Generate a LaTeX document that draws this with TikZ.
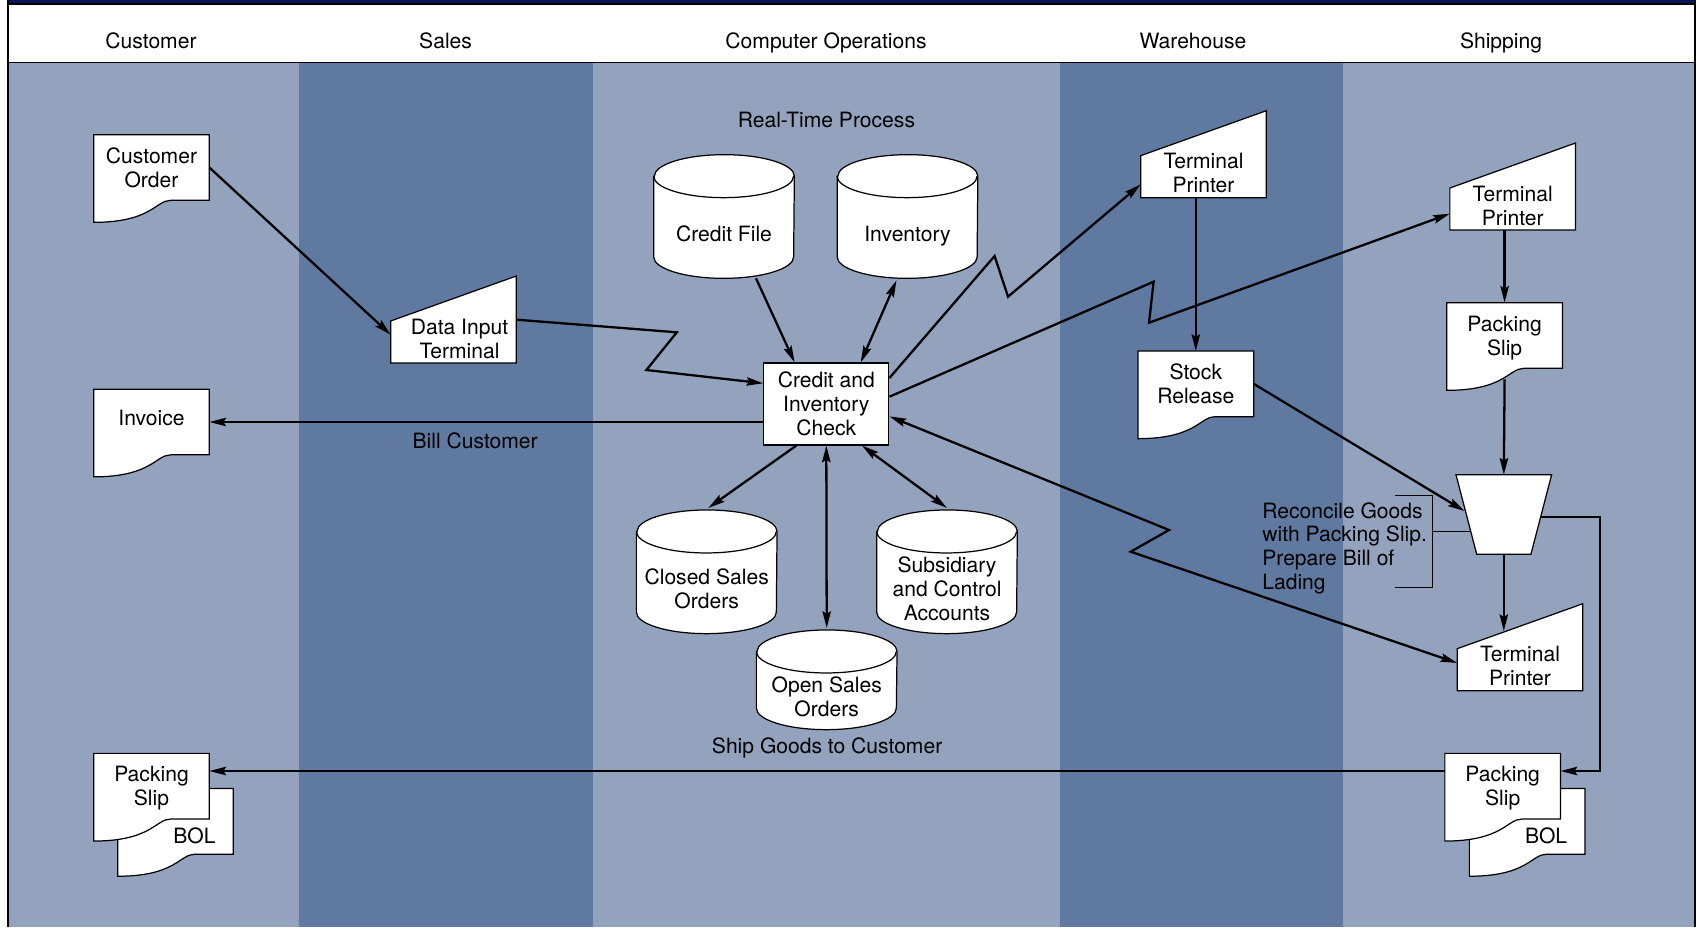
\documentclass[tikz,border=0pt]{standalone}
\usepackage{fontspec}
\setmainfont{TeX Gyre Heros}
\usetikzlibrary{arrows.meta, calc, backgrounds}
\definecolor{lanelight}{RGB}{148,163,189}
\definecolor{lanedark}{RGB}{96,121,160}
\definecolor{framenavy}{RGB}{10,18,90}

%% shape outlines, drawn behind the text of a named node
\newcommand{\docshape}[1]{%
  \begin{scope}[on background layer]
    \filldraw[shapeline] (#1.south east) -- (#1.north east) -- (#1.north west)
      -- ($(#1.south west)+(0,22)$)
      .. controls ($(#1.south west)+(58,22)$) and ($(#1.south west)+(62,0)$) ..
      ($(#1.south west)+(77,0)$) -- cycle;
  \end{scope}}
\newcommand{\termshape}[1]{%
  \begin{scope}[on background layer]
    \filldraw[shapeline] (#1.south west) -- (#1.south east)
      -- ($(#1.south east)+(0,-87)$) -- ($(#1.south west)+(0,-42)$) -- cycle;
  \end{scope}}
\newcommand{\cylshape}[1]{%
  \begin{scope}[on background layer]
    \filldraw[shapeline] ($(#1.north west)+(0,-21.5)$) -- ($(#1.south west)+(0,-21.5)$)
      arc[start angle=180, end angle=360, x radius=1.4cm, y radius=0.43cm]
      -- ($(#1.north east)+(0,-21.5)$)
      arc[start angle=0, end angle=180, x radius=1.4cm, y radius=0.43cm] -- cycle;
    \draw[shapeline, fill=none] ($(#1.north west)+(0,-21.5)$)
      arc[start angle=180, end angle=360, x radius=1.4cm, y radius=0.43cm];
  \end{scope}}
\newcommand{\trapshape}[1]{%
  \begin{scope}[on background layer]
    \filldraw[shapeline] (#1.north west) -- (#1.north east)
      -- ($(#1.south east)+(-20.75,0)$) -- ($(#1.south west)+(20.75,0)$) -- cycle;
  \end{scope}}

\begin{document}
\begin{tikzpicture}[x=0.02cm, y=-0.02cm,
    font=\fontsize{12}{13.6}\selectfont,
    shapeline/.style={draw=black, fill=white, line width=0.7pt},
    docu/.style={rectangle, inner sep=0pt, minimum width=2.3cm,
                 minimum height=1.3cm, align=center, text depth=0pt},
    term/.style={rectangle, inner sep=0pt, minimum width=2.5cm,
                 minimum height=0.96cm, align=center, anchor=south},
    disk/.style={rectangle, inner sep=0pt, minimum width=2.8cm,
                 minimum height=1.6cm, align=center, text depth=0.18cm},
    proc/.style={rectangle, draw, fill=white, line width=0.7pt, inner sep=0pt,
                 minimum width=2.5cm, minimum height=1.64cm, align=center},
    bol/.style={docu, text width=1.6cm, align=right, text height=0.9cm},
    flow/.style={line width=1.3pt, -{Stealth[length=9.5pt, width=4.8pt, inset=1.5pt]}},
    twoway/.style={line width=1.3pt,
                   {Stealth[length=9.5pt, width=4.8pt, inset=1.5pt]}-{Stealth[length=9.5pt, width=4.8pt, inset=1.5pt]}},
    bracket/.style={line width=0.6pt},
    lane/.style={anchor=base}]

\useasboundingbox (0,0) rectangle (1696,927);

%% ── Swim lanes and header ────────────────────────────────────────────────────
\begin{scope}[on background layer]
  \fill[lanelight] (8,62.5) rectangle (298.5,927);
  \fill[lanedark]  (298.5,62.5) rectangle (592.7,927);
  \fill[lanelight] (592.7,62.5) rectangle (1060.3,927);
  \fill[lanedark]  (1060.3,62.5) rectangle (1342.5,927);
  \fill[lanelight] (1342.5,62.5) rectangle (1694.5,927);
\end{scope}
\fill[framenavy] (8,0) rectangle (1696,4.3);
\draw[fill=white, line width=1pt] (8,4.3) rectangle (1694.8,62.5);
\draw[line width=1.2pt] (8,0) -- (8,927);
\draw[line width=1.2pt] (1695,0) -- (1695,927);

\node[lane] (hcust)  at (151,48)    {Customer};
\node[lane] (hsales) at (445.6,48)  {Sales};
\node[lane] (hops)   at (826,48)    {Computer Operations};
\node[lane] (hware)  at (1193,48)   {Warehouse};
\node[lane] (hship)  at (1501,48)   {Shipping};

%% ── Customer ─────────────────────────────────────────────────────────────────
\node[docu] (co) at (151.5,167.5) {Customer\\Order};
\node[docu, text depth=0.18cm] (inv) at (151.5,422) {Invoice};
\node[docu] (psc) at (151.5,786.2) {Packing\\Slip};
\node[bol] (bolc) at (175.5,821.4) {BOL};

%% ── Sales ────────────────────────────────────────────────────────────────────
\node[term] (dit) at (453.5,363) {\hspace*{0.24cm}Data Input\\\hspace*{0.24cm}Terminal};

%% ── Computer operations ──────────────────────────────────────────────────────
\node[anchor=base] (rtp) at (826.4,127.5) {Real-Time Process};
\node[disk] (cf)   at (724,238)   {Credit File};
\node[disk] (invf) at (907.5,238) {Inventory};
\node[proc] (cic)  at (826.3,404) {Credit and\\Inventory\\Check};
\node[disk] (cso)  at (706.7,593.3) {Closed Sales\\Orders};
\node[disk] (sca)  at (947,593.3)   {Subsidiary\\and Control\\Accounts};
\node[disk, minimum height=1.12cm] (oso) at (826.7,701.3) {Open Sales\\Orders};

%% ── Warehouse ────────────────────────────────────────────────────────────────
\node[term] (tpa) at (1203.5,197.7) {Terminal\\Printer};
\node[docu] (sr)  at (1195.8,383.8) {Stock\\Release};

%% ── Shipping ─────────────────────────────────────────────────────────────────
\node[term] (tpb) at (1512.7,230)   {Terminal\\Printer};
\node[docu] (pss) at (1504.6,335.5) {Packing\\Slip};
\node[rectangle, inner sep=0pt, minimum width=1.9cm, minimum height=1.58cm]
    (rec) at (1503.8,514.5) {};
\node[anchor=west, inner sep=0pt, align=left] (note) at (1262,548.3)
    {Reconcile Goods\\with Packing Slip.\\Prepare Bill of\\Lading};
\node[term] (tpc) at (1520,690.7)   {Terminal\\Printer};
\node[docu] (psr) at (1502.7,786.2) {Packing\\Slip};
\node[bol] (bolr) at (1527.2,821.4) {BOL};

%% ── Symbol outlines ──────────────────────────────────────────────────────────
\docshape{co}
\docshape{inv}
\docshape{bolc}
\docshape{psc}
\termshape{dit}
\cylshape{cf}
\cylshape{invf}
\cylshape{cso}
\cylshape{sca}
\cylshape{oso}
\termshape{tpa}
\docshape{sr}
\termshape{tpb}
\docshape{pss}
\trapshape{rec}
\termshape{tpc}
\docshape{bolr}
\docshape{psr}

%% ── Flows ────────────────────────────────────────────────────────────────────
\draw[flow] (co.east) -- ($(dit.west)+(0,-4)$);
\draw[flow] ($(dit.east)+(0,-19)$) -- (676.8,332.3) -- (646.4,370)
    -- ($(cic.west)+(0,-20.7)$);
\draw[flow] ($(cf.south)+(32,0)$) -- ($(cic.north)+(-31.7,0)$);
\draw[twoway] ($(invf.south)+(-11,2)$) -- ($(cic.north)+(34.4,0)$);
\draw[flow] (cic.west |- inv.east)
    -- node[below=2pt, pos=0.52] (lblbill) {Bill Customer}
    (inv.east);
\draw[flow] ($(cic.south)+(-30,0)$) -- ($(cso.north)+(1.6,-45)$);
\draw[twoway] (cic.south) -- ($(oso.north)+(0,-45)$);
\draw[twoway] ($(cic.south)+(35.7,0)$) -- ($(sca.north)+(0,-45)$);

%% real-time links to the printers
\draw[flow] ($(cic.east)+(0,-26)$) -- (994.6,256) -- (1008,296.7)
    -- ($(tpa.west)+(0,11)$);
\draw[flow] ($(cic.east)+(0,-7.3)$) -- (1153.6,281.7) -- (1149,322.7)
    -- ($(tpb.west)+(0,8)$);
\draw[twoway] ($(cic.east)+(0,12.4)$) -- (1169,530) -- (1130.7,551.7)
    -- ($(tpc.west)+(0,-3.4)$);

\draw[flow] (sr.north |- tpa.south) -- (sr.north);
\draw[flow] (sr.east) -- ($(rec.west)+(8.5,-3.5)$);
\draw[flow] (pss.north |- tpb.south) -- (pss.north);
\draw[flow] ($(pss.south)+(0,11)$) -- (rec.north);
\draw[flow] (rec.south) -- ++(0,76.7);
\draw[flow] ($(rec.east)+(-11,2.2)$) -- ++(59.6,0) |- ($(psr.east)+(0,-15.2)$);
\draw[flow] ($(psr.west)+(0,-15.2)$)
    -- node[above=3.5pt, pos=0.5] (lblship) {Ship Goods to Customer}
    ($(psc.east)+(0,-15.2)$);

%% bracket of the note
\coordinate (brk) at (1432.8,531.7);
\draw[bracket] (1394.8,495.3) -| (1432.8,587.3) -- (1394.8,587.3);
\draw[bracket] (brk) -- ($(rec.west)+(14,17.2)$);

\end{tikzpicture}
\end{document}
